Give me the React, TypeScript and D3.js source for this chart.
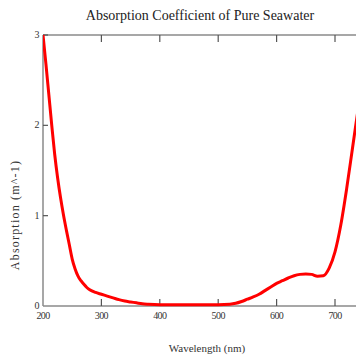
import React from "react";
import * as d3 from "d3";

const wavelengths = [200, 205, 210, 215, 220, 225, 230, 235, 240, 245, 250, 255, 260, 265, 270, 275, 280, 290, 300, 310, 320, 330, 340, 350, 360, 370, 380, 400, 450, 500, 520, 530, 540, 550, 560, 570, 580, 590, 600, 610, 620, 630, 640, 650, 660, 670, 680, 690, 700, 710, 720, 730, 740];
const absorption = [3.0, 2.68, 2.34, 2.0, 1.68, 1.42, 1.2, 1.01, 0.84, 0.68, 0.52, 0.41, 0.33, 0.28, 0.24, 0.205, 0.18, 0.15, 0.13, 0.11, 0.09, 0.07, 0.055, 0.045, 0.035, 0.025, 0.02, 0.015, 0.015, 0.015, 0.02, 0.03, 0.05, 0.075, 0.1, 0.13, 0.17, 0.21, 0.25, 0.28, 0.31, 0.335, 0.35, 0.355, 0.35, 0.33, 0.335, 0.42, 0.6, 0.9, 1.3, 1.75, 2.2];
const xTicks = [200, 300, 400, 500, 600, 700];
const yTicks = [0, 1, 2, 3];

const W = 356;
const H = 356;
const left = 43;
const top = 35;
const bottom = 306;

export default function App() {
  const x = d3.scaleLinear().domain([200, 700]).range([left, 335]);
  const y = d3.scaleLinear().domain([0, 3]).range([bottom, top]);
  const pts: [number, number][] = wavelengths.map((w, i) => [w, absorption[i]]);
  const line = d3
    .line<[number, number]>()
    .x((d) => x(d[0]))
    .y((d) => y(d[1]))
    .curve(d3.curveMonotoneX);
  const axisColor = "#8a8a8a";
  const font = "'Liberation Serif', 'DejaVu Serif', serif";
  return (
    <svg
      width={W}
      height={H}
      style={{ position: "absolute", left: 0, top: 0, background: "#fff" }}
      fontFamily={font}
    >
      <defs>
        <clipPath id="plot">
          <rect x={left} y={0} width={W - left} height={bottom + 2} />
        </clipPath>
      </defs>
      <text x={200} y={20} textAnchor="middle" fontSize={14} fill="#222">
        Absorption Coefficient of Pure Seawater
      </text>
      <line x1={left} y1={top} x2={W} y2={top} stroke={axisColor} strokeWidth={1.5} />
      <line x1={left} y1={bottom} x2={W} y2={bottom} stroke={axisColor} strokeWidth={1.5} />
      <line x1={left} y1={top} x2={left} y2={bottom} stroke={axisColor} strokeWidth={1.5} />
      {xTicks.slice(1).map((t) => (
        <g key={t}>
          <line x1={x(t)} x2={x(t)} y1={top} y2={top + 7} stroke="#555" strokeWidth={1.2} />
          <line x1={x(t)} x2={x(t)} y1={bottom} y2={bottom - 7} stroke="#555" strokeWidth={1.2} />
        </g>
      ))}
      {xTicks.map((t) => (
        <text key={"xl" + t} x={x(t)} y={bottom + 13} textAnchor="middle" fontSize={10} fill="#333" letterSpacing={-0.6}>
          {t}
        </text>
      ))}
      {yTicks.slice(1).map((t) => (
        <line key={"yt" + t} x1={left} x2={left + 5} y1={y(t)} y2={y(t)} stroke="#555" strokeWidth={1.2} />
      ))}
      {yTicks.map((t) => (
        <text key={"yl" + t} x={37} y={y(t) + 3} textAnchor="middle" fontSize={10} fill="#333">
          {t}
        </text>
      ))}
      <path
        d={line(pts) || ""}
        fill="none"
        stroke="#ff0000"
        strokeWidth={3}
        strokeLinejoin="round"
        clipPath="url(#plot)"
      />
      <text x={207} y={352} textAnchor="middle" fontSize={11} fill="#333">
        Wavelength (nm)
      </text>
      <text
        transform={`translate(19,${215}) rotate(-90)`}
        textAnchor="middle"
        fontSize={12}
        letterSpacing={1.2}
        fill="#333"
      >
        Absorption (m^-1)
      </text>
    </svg>
  );
}
